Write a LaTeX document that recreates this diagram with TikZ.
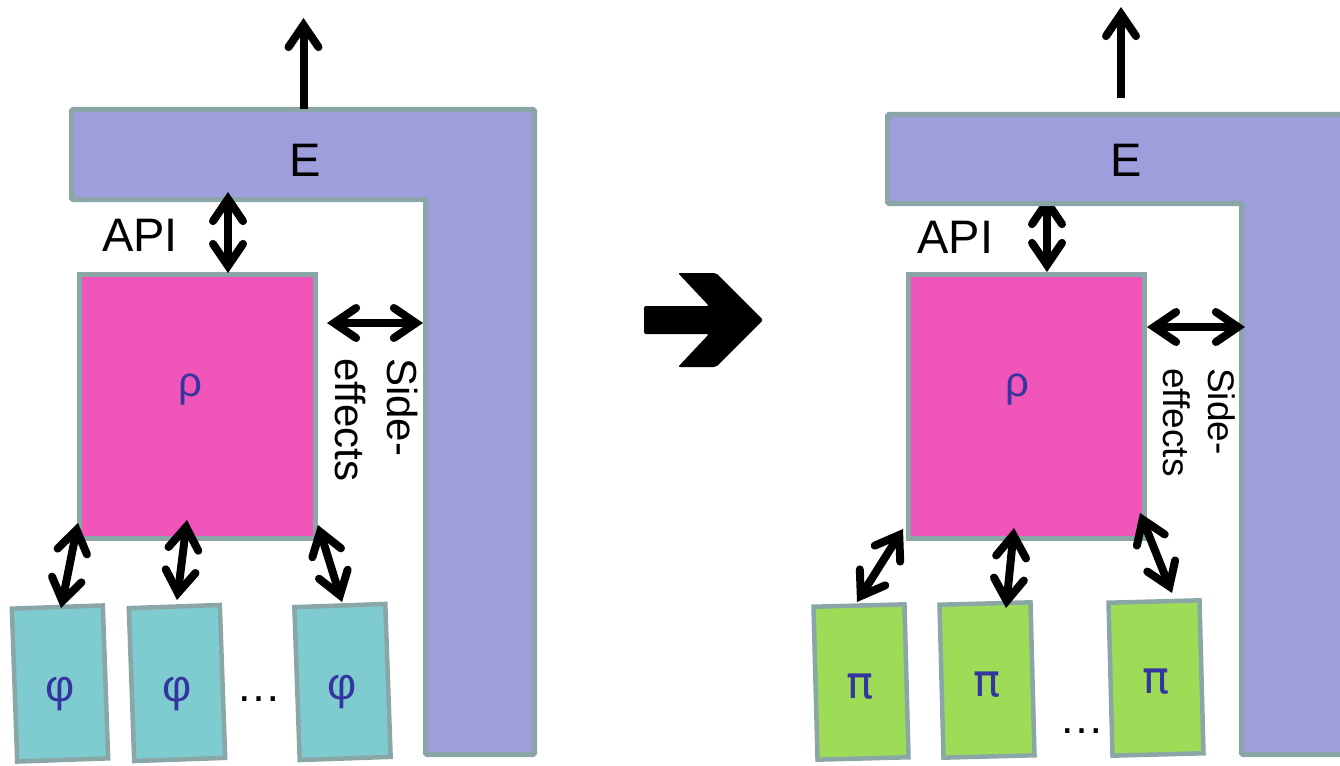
\documentclass[tikz,border=0pt]{standalone}
\usepackage{fontspec}
\setmainfont{Liberation Sans}
\newfontfamily\pifont{DejaVu Sans}
\usetikzlibrary{arrows.meta}

\definecolor{envfill}{HTML}{9E9EDC}
\definecolor{edgegrey}{HTML}{8BA6A7}
\definecolor{rhofill}{HTML}{F055B9}
\definecolor{phifill}{HTML}{7ECBD0}
\definecolor{pifill}{HTML}{9EDC58}
\definecolor{glyphblue}{HTML}{3535A0}

\tikzset{
  envshape/.style={fill=envfill, draw=edgegrey, line width=5pt, rounded corners=1.5pt},
  procbox/.style={rectangle, draw=edgegrey, line width=5pt, fill=rhofill,
    minimum width=236pt, minimum height=263.5pt, inner sep=0pt},
  leafbox/.style={rectangle, draw=edgegrey, line width=4.5pt,
    minimum width=91pt, minimum height=153pt, inner sep=0pt},
  greek/.style={text=glyphblue, font=\fontsize{45}{54}\selectfont, inner sep=0pt},
  pilabel/.style={text=glyphblue, font=\pifont\fontsize{45}{54}\selectfont, inner sep=0pt},
  bigtext/.style={font=\fontsize{47}{56}\selectfont, inner sep=0pt},
  sidetext/.style={inner sep=0pt, align=left, rotate=-90, anchor=north west},
  dots/.style={font=\fontsize{45}{54}\selectfont, inner sep=0pt},
  barb/.tip={Straight Barb[length=22pt, width=30pt, line cap=round]},
  link/.style={line width=8pt, barb-barb},
  outlink/.style={line width=8pt, -barb},
}

\begin{document}
\begin{tikzpicture}[x=1pt, y=-1pt]
  \clip (0,0) rectangle (1340,765);
  \fill[white] (0,0) rectangle (1340,765);

  % ---------- left system ----------
  \draw[envshape] (71.5,109.5) -- (534.5,109.5) -- (534.5,754.5) -- (425.5,754.5)
    -- (425.5,199.5) -- (71.5,199.5) -- cycle;
  \node[bigtext] (envL) at (305.5,160) {E};
  \node[bigtext] (apiL) at (140,235) {API};

  \node[procbox] (rhoL) at (197.5,406.25) {};
  \node[greek, font=\fontsize{42}{50}\selectfont] (rhoLtxt) at (190,390) {ρ};

  \node[leafbox, fill=phifill, rotate=2] (phiA) at (60,683.5) {};
  \node[leafbox, fill=phifill, rotate=2] (phiB) at (177,683) {};
  \node[leafbox, fill=phifill, rotate=2] (phiC) at (342.5,682) {};
  \node[greek] (phiAtxt) at (60,694) {φ};
  \node[greek] (phiBtxt) at (177,694) {φ};
  \node[greek] (phiCtxt) at (342,692) {φ};
  \node[dots] (dotsL) at (258.5,699) {…};

  \node[sidetext, font=\fontsize{42}{52}\selectfont] (sideL) at (418,358) {Side-\\effects};

  % connector ends, left
  \coordinate (upLa) at (303.5,109);  \coordinate (upLb) at (303.5,18);
  \coordinate (apiLa) at (228,192);   \coordinate (apiLb) at (228,273);
  \coordinate (seLa) at (327,323);    \coordinate (seLb) at (423,323);
  \coordinate (dLa1) at (78,523);     \coordinate (dLb1) at (61,608);
  \coordinate (dLa2) at (187,520);    \coordinate (dLb2) at (177,600);
  \coordinate (dLa3) at (318,525);    \coordinate (dLb3) at (342,602);

  \draw[outlink] (upLa) -- (upLb);
  \draw[link] (apiLa) -- (apiLb);
  \draw[link] (seLa) -- (seLb);
  \draw[link] (dLa1) -- (dLb1);
  \draw[link] (dLa2) -- (dLb2);
  \draw[link] (dLa3) -- (dLb3);

  % ---------- right system ----------
  \coordinate (apiRa) at (1047,195);  \coordinate (apiRb) at (1047,272);
  \draw[link] (apiRa) -- (apiRb);

  \draw[envshape] (887.5,114.5) -- (1400,114.5) -- (1400,754.5) -- (1241.5,754.5)
    -- (1241.5,203.5) -- (887.5,203.5) -- cycle;
  \node[bigtext] (envR) at (1126,160.5) {E};
  \node[bigtext] (apiR) at (955.5,237.5) {API};

  \node[procbox] (rhoR) at (1026,406.25) {};
  \node[greek, font=\fontsize{42}{50}\selectfont] (rhoRtxt) at (1017,390) {ρ};

  \node[leafbox, fill=pifill, rotate=1.5] (piA) at (861,682) {};
  \node[leafbox, fill=pifill, rotate=1.5] (piB) at (987,680) {};
  \node[leafbox, fill=pifill, rotate=1.5] (piC) at (1156,678) {};
  \node[pilabel] (piAtxt) at (860,687) {π};
  \node[pilabel] (piBtxt) at (987,685) {π};
  \node[pilabel] (piCtxt) at (1156,682) {π};
  \node[dots] (dotsR) at (1082,731) {…};

  \node[sidetext, font=\fontsize{37}{45}\selectfont] (sideR) at (1235,368) {Side-\\effects};

  % connector ends, right
  \coordinate (upRa) at (1121,98);    \coordinate (upRb) at (1121,7);
  \coordinate (seRa) at (1147,327);   \coordinate (seRb) at (1245,327);
  \coordinate (dRa1) at (903,529);    \coordinate (dRb1) at (857,602);
  \coordinate (dRa2) at (1014,528);   \coordinate (dRb2) at (1006,608);
  \coordinate (dRa3) at (1140,513);   \coordinate (dRb3) at (1172,593);

  \draw[outlink] (upRa) -- (upRb);
  \draw[link] (seRa) -- (seRb);
  \draw[link] (dRa1) -- (dRb1);
  \draw[link] (dRa2) -- (dRb2);
  \draw[link] (dRa3) -- (dRb3);

  % ---------- transformation arrow ----------
  \fill[black, rounded corners=2pt] (644,306) -- (709,306) -- (678,273) -- (716,273)
    -- (763,320) -- (716,367) -- (678,367) -- (709,334) -- (644,334) -- cycle;
\end{tikzpicture}
\end{document}
